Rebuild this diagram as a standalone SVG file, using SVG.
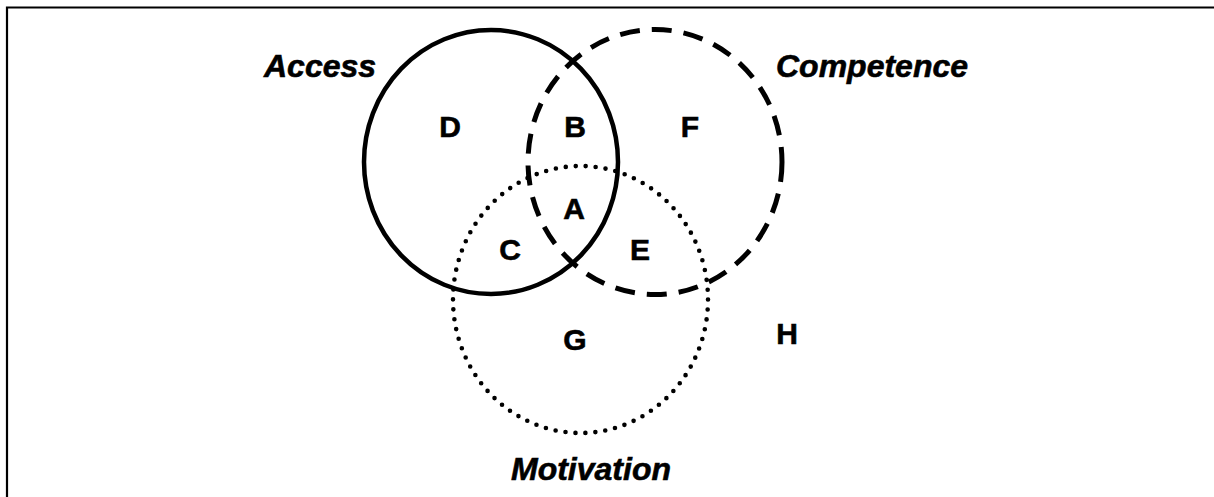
<svg xmlns="http://www.w3.org/2000/svg" width="1214" height="497" viewBox="0 0 1214 497">
<style>
.set{fill:none;stroke:#000}
.solid{stroke-width:4.5}
.dash{stroke-width:5;stroke-dasharray:20 12}
.dot{stroke-width:4.6;stroke-linecap:round;stroke-dasharray:0 10}
.title{font-family:"Liberation Sans",Arial,sans-serif;font-weight:bold;font-style:italic;font-size:32px;fill:#000;stroke:#000;stroke-width:0.6}
.lbl{font-family:"Liberation Sans",Arial,sans-serif;font-weight:bold;font-size:30px;fill:#000;stroke:#000;stroke-width:0.6;text-anchor:middle}
</style>
<rect width="1214" height="497" fill="#fff"/>
<path d="M7,497 V7.5 H1214" fill="none" stroke="#000" stroke-width="2.2"/>
<g id="access">
<ellipse class="set solid" cx="491" cy="162" rx="127" ry="132"/>
<text class="title" x="264" y="77">Access</text>
</g>
<g id="competence">
<ellipse class="set dash" cx="655" cy="162" rx="127" ry="132.5"/>
<text class="title" x="776" y="77">Competence</text>
</g>
<g id="motivation">
<ellipse class="set dot" cx="580.5" cy="299.5" rx="127.5" ry="133.5"/>
<text class="title" x="591" y="480" text-anchor="middle">Motivation</text>
</g>
<g id="regions">
<text class="lbl" x="574" y="219">A</text>
<text class="lbl" x="575" y="137">B</text>
<text class="lbl" x="510" y="260">C</text>
<text class="lbl" x="450" y="137">D</text>
<text class="lbl" x="640" y="260">E</text>
<text class="lbl" x="690" y="137">F</text>
<text class="lbl" x="575" y="350">G</text>
<text class="lbl" x="787" y="344">H</text>
</g>
</svg>
